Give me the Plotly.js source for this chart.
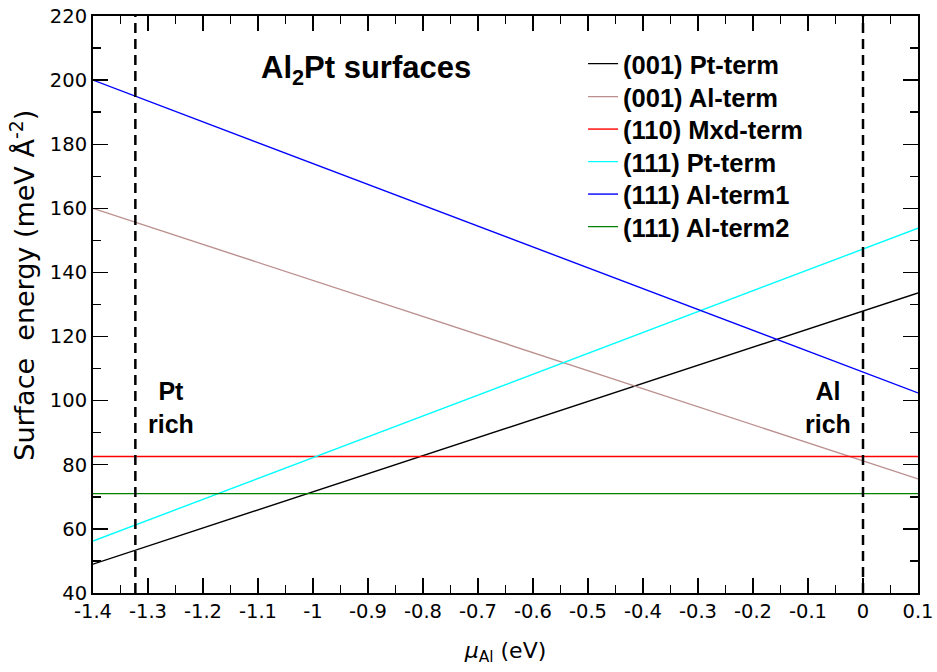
<!DOCTYPE html>
<html><head><meta charset="utf-8">
<script src="https://cdn.plot.ly/plotly-3.0.1.min.js"></script>
<style>html,body{margin:0;padding:0;background:#fff}#c{width:937px;height:672px}</style>
</head><body><div id="c"></div>
<script>
// Data
const muEnds = [-1.4, 0.1];
const names = ["(001) Pt-term","(001) Al-term","(110) Mxd-term","(111) Pt-term","(111) Al-term1","(111) Al-term2"];
const colors = ["#000000","#bc8f8f","#ff0000","#00ffff","#0000ff","#008000"];
const pt001 = [49.0, 133.6];
const al001 = [160.0, 75.6];
const mxd110 = [82.6, 82.6];
const pt111 = [56.2, 153.8];
const al111a = [200.0, 102.4];
const al111b = [71.0, 71.0];
const series = [pt001, al001, mxd110, pt111, al111a, al111b];
const ptRichX = [-1.323, -1.323];
const alRichX = [0, 0];
const limitY = [40, 220];
const xTicks = [-1.4,-1.3,-1.2,-1.1,-1,-0.9,-0.8,-0.7,-0.6,-0.5,-0.4,-0.3,-0.2,-0.1,0,0.1];
const xTickText = ["-1.4","-1.3","-1.2","-1.1","-1","-0.9","-0.8","-0.7","-0.6","-0.5","-0.4","-0.3","-0.2","-0.1","0","0.1"];
const yTicks = [40,60,80,100,120,140,160,180,200,220];

const F = "DejaVu Sans, Verdana, sans-serif";
const FB = "Liberation Sans, Arial, Helvetica, sans-serif";
const legIds = ['legend','legend2','legend3','legend4','legend5','legend6'];
const traces = series.map((s,i)=>({
  x: muEnds, y: s, mode:'lines', name:'<b>'+names[i]+'</b>',
  line:{color:colors[i], width:1.4}, legend:legIds[i]
}));
traces.push({x:ptRichX, y:limitY, mode:'lines', showlegend:false, line:{color:'#000', width:2.5, dash:'10px,6px'}});
traces.push({x:alRichX, y:limitY, mode:'lines', showlegend:false, line:{color:'#000', width:2.5, dash:'10px,6px'}});

const axisCommon = {showgrid:false, zeroline:false, showline:true, linecolor:'#000', linewidth:2,
  mirror:'ticks', ticks:'inside', ticklen:15, tickwidth:1.4, tickcolor:'#000',
  tickfont:{family:F, size:19.5, color:'#000'}};

const layout = {
  width:937, height:672, margin:{l:93, r:19, t:16, b:79},
  paper_bgcolor:'#fff', plot_bgcolor:'#fff', showlegend:true,
  font:{family:F, color:'#000'},
  xaxis: Object.assign({}, axisCommon, {range:[-1.4,0.1], tickvals:xTicks, ticktext:xTickText,
    minor:{dtick:0.05, tick0:-1.4, ticks:'inside', ticklen:8, tickwidth:1.4, tickcolor:'#000'},
    title:{text:'<i>μ</i><sub>Al</sub> (eV)', font:{family:F, size:22, color:'#000'}, standoff:20}}),
  yaxis: Object.assign({}, axisCommon, {range:[40,220], tickvals:yTicks,
    minor:{dtick:10, tick0:40, ticks:'inside', ticklen:8, tickwidth:1.4, tickcolor:'#000'}}),
  annotations:[
    {xref:'paper', yref:'paper', x:-0.085, y:0.534, xanchor:'center', yanchor:'middle', showarrow:false,
     textangle:-90, text:'Surface&nbsp; energy (meV Å<sup>-2</sup>)', font:{family:F, size:27, color:'#000'}},
    {xref:'paper', yref:'paper', x:0.331, y:0.906, xanchor:'center', yanchor:'middle', showarrow:false,
     text:'<b>Al<sub>2</sub>Pt surfaces</b>', font:{family:FB, size:31, color:'#000'}},
    {xref:'paper', yref:'paper', x:0.095, y:0.322, xanchor:'center', yanchor:'middle', showarrow:false,
     text:'<b>Pt<br>rich</b>', font:{family:FB, size:25, color:'#000'}},
    {xref:'paper', yref:'paper', x:0.891, y:0.322, xanchor:'center', yanchor:'middle', showarrow:false,
     text:'<b>Al<br>rich</b>', font:{family:FB, size:25, color:'#000'}}
  ]
};
const rowPx = [64, 97, 129.5, 162, 194.5, 227];
legIds.forEach((id,i)=>{
  layout[id] = {x:0.594, y:1-(rowPx[i]-16)/577, xanchor:'left', yanchor:'middle',
    bgcolor:'rgba(0,0,0,0)', font:{family:FB, size:25.5, color:'#000'}, itemwidth:30};
});
Plotly.newPlot('c', traces, layout, {staticPlot:true});
</script></body></html>
